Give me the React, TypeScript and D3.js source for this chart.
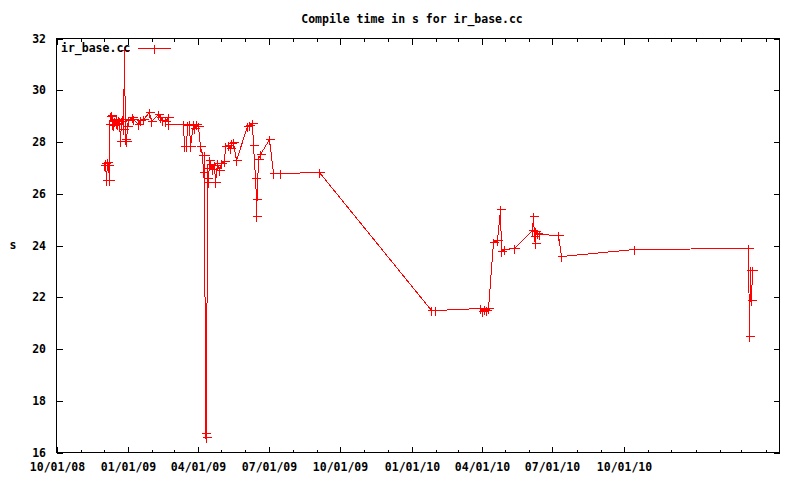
import React from "react";
import * as d3 from "d3";

const title = "Compile time in s for ir_base.cc";
const seriesName = "ir_base.cc";
const yLabel = "s";

const dates = [
  "2008-12-01", "2008-12-03", "2008-12-04", "2008-12-05", "2008-12-06", "2008-12-07",
  "2008-12-08", "2008-12-09", "2008-12-10", "2008-12-11", "2008-12-12", "2008-12-13",
  "2008-12-14", "2008-12-16", "2008-12-17", "2008-12-18", "2008-12-19", "2008-12-21",
  "2008-12-22", "2008-12-23", "2008-12-24", "2008-12-26", "2008-12-27", "2008-12-28",
  "2008-12-30", "2008-12-31", "2009-01-01", "2009-01-06", "2009-01-08", "2009-01-14",
  "2009-01-17", "2009-01-20", "2009-01-28", "2009-01-30", "2009-02-09", "2009-02-11",
  "2009-02-14", "2009-02-18", "2009-02-21", "2009-02-22", "2009-03-13", "2009-03-14",
  "2009-03-16", "2009-03-18", "2009-03-20", "2009-03-22", "2009-03-25", "2009-03-27",
  "2009-03-29", "2009-04-01", "2009-04-04", "2009-04-06", "2009-04-07", "2009-04-09",
  "2009-04-10", "2009-04-11", "2009-04-12", "2009-04-13", "2009-04-14", "2009-04-15",
  "2009-04-17", "2009-04-19", "2009-04-21", "2009-04-23", "2009-04-25", "2009-04-28",
  "2009-05-01", "2009-05-04", "2009-05-06", "2009-05-10", "2009-05-12", "2009-05-14",
  "2009-05-16", "2009-05-20", "2009-06-03", "2009-06-06", "2009-06-10", "2009-06-11",
  "2009-06-13", "2009-06-14", "2009-06-15", "2009-06-17", "2009-06-20", "2009-07-01",
  "2009-07-07", "2009-07-15", "2009-09-04", "2010-01-26", "2010-01-31", "2010-03-30",
  "2010-04-01", "2010-04-04", "2010-04-06", "2010-04-09", "2010-04-16", "2010-04-20",
  "2010-04-24", "2010-04-26", "2010-04-30", "2010-05-13", "2010-06-04", "2010-06-06",
  "2010-06-07", "2010-06-08", "2010-06-09", "2010-06-11", "2010-06-14", "2010-07-08",
  "2010-07-12", "2010-10-14", "2011-03-10", "2011-03-11", "2011-03-12", "2011-03-13",
  "2011-03-14",
];

const values = [
  27.12, 27.2, 26.55, 27.23, 27.1, 26.55,
  28.68, 29.0, 29.05, 28.7, 28.85, 28.65,
  28.8, 28.75, 28.9, 28.7, 28.85, 28.8,
  28.05, 28.8, 28.9, 28.5, 31.55, 28.1,
  28.05, 28.6, 28.85, 28.95, 28.9, 28.7,
  28.85, 28.9, 29.15, 28.8, 29.07, 28.95,
  28.85, 28.8, 28.95, 28.68, 28.68, 27.85,
  27.85, 28.65, 28.7, 27.85, 28.7, 28.55,
  28.7, 28.6, 27.85, 27.5, 26.85, 27.5,
  16.75, 16.6, 26.6, 27.0, 26.45, 27.3,
  27.15, 26.95, 27.1, 26.45, 27.2, 26.9,
  27.2, 27.25, 27.85, 27.9, 27.75, 27.95,
  28.0, 27.3, 28.6, 28.65, 28.75, 27.9,
  26.6, 25.8, 25.15, 27.35, 27.55, 28.1,
  26.8, 26.8, 26.85, 21.5, 21.5, 21.6,
  21.45, 21.55, 21.5, 21.6, 24.15, 24.2,
  25.4, 23.8, 23.85, 23.9, 24.6, 25.15,
  24.35, 24.1, 24.55, 24.5, 24.45, 24.4,
  23.6, 23.85, 23.9, 20.5, 23.05, 21.9,
  23.05,
];

const xDomain = ["2008-10-01", "2011-04-19"];
const majorTickLabels = [
  "10/01/08", "01/01/09", "04/01/09", "07/01/09", "10/01/09",
  "01/01/10", "04/01/10", "07/01/10", "10/01/10",
];
const yTicks = [16, 18, 20, 22, 24, 26, 28, 30, 32];

const FONT = "'DejaVu Sans Mono', monospace";

export default function App() {
  const W = 800;
  const H = 480;
  const left = 56.5;
  const right = 779.5;
  const top = 38.5;
  const bottom = 452.5;
  const parse = d3.timeParse("%Y-%m-%d");
  const parseTick = d3.timeParse("%m/%d/%y");

  const x = d3
    .scaleTime()
    .domain([parse(xDomain[0]) as Date, parse(xDomain[1]) as Date])
    .range([left, right]);
  const y = d3.scaleLinear().domain([16, 32]).range([bottom, top]);

  const pts = dates.map((d, i) => ({
    px: Math.round(x(parse(d) as Date)) + 0.5,
    py: Math.round(y(values[i])) + 0.5,
  }));

  const line = d3
    .line<{ px: number; py: number }>()
    .x((p) => p.px)
    .y((p) => p.py);

  const majorDates = majorTickLabels.map((l) => parseTick(l) as Date);
  const majorSet = new Set(majorDates.map((d) => +d));
  const minorDates = d3
    .timeMonth.range(x.domain()[0], x.domain()[1])
    .filter((d) => !majorSet.has(+d));

  const majorLen = 6;
  const minorLen = 3;
  const red = "#ff0000";

  return (
    <svg
      width={W}
      height={H}
      style={{ position: "absolute", left: 0, top: 0, background: "#fff" }}
      fontFamily={FONT}
      fontWeight="bold"
      fontSize={11.5}
    >
      <rect x={0} y={0} width={W} height={H} fill="#fff" />
      <text x={412} y={19} textAnchor="middle" dominantBaseline="central" fill="#000">
        {title}
      </text>
      <text x={13} y={245} textAnchor="middle" dominantBaseline="central" fill="#000">
        {yLabel}
      </text>

      {/* frame */}
      <rect
        x={left}
        y={top}
        width={right - left}
        height={bottom - top}
        fill="none"
        stroke="#000"
        strokeWidth={1}
        shapeRendering="crispEdges"
      />

      {/* y ticks */}
      {yTicks.map((t) => {
        const yy = Math.round(y(t)) + 0.5;
        return (
          <g key={"y" + t}>
            <line x1={left} x2={left + majorLen} y1={yy} y2={yy} stroke="#000" shapeRendering="crispEdges" />
            <line x1={right} x2={right - majorLen} y1={yy} y2={yy} stroke="#000" shapeRendering="crispEdges" />
            <text x={46} y={yy - 1} textAnchor="end" dominantBaseline="central" fill="#000">
              {t}
            </text>
          </g>
        );
      })}

      {/* x ticks */}
      {majorDates.map((d, i) => {
        const xx = Math.round(x(d)) + 0.5;
        return (
          <g key={"xm" + i}>
            <line x1={xx} x2={xx} y1={bottom} y2={bottom - majorLen} stroke="#000" shapeRendering="crispEdges" />
            <line x1={xx} x2={xx} y1={top} y2={top + majorLen} stroke="#000" shapeRendering="crispEdges" />
            <text x={xx} y={466.5} textAnchor="middle" dominantBaseline="central" fill="#000">
              {majorTickLabels[i]}
            </text>
          </g>
        );
      })}
      {minorDates.map((d, i) => {
        const xx = Math.round(x(d)) + 0.5;
        return (
          <g key={"xn" + i}>
            <line x1={xx} x2={xx} y1={bottom} y2={bottom - minorLen} stroke="#000" shapeRendering="crispEdges" />
            <line x1={xx} x2={xx} y1={top} y2={top + minorLen} stroke="#000" shapeRendering="crispEdges" />
          </g>
        );
      })}

      {/* series */}
      <path d={line(pts) || ""} fill="none" stroke={red} strokeWidth={1} shapeRendering="crispEdges" />
      {pts.map((p, i) => (
        <path
          key={"p" + i}
          d={`M${p.px - 4},${p.py}h9M${p.px},${p.py - 4}v9`}
          stroke={red}
          strokeWidth={1}
          fill="none"
          shapeRendering="crispEdges"
        />
      ))}

      {/* legend */}
      <text x={61} y={48} textAnchor="start" dominantBaseline="central" fill="#000">
        {seriesName}
      </text>
      <line x1={138} x2={171} y1={48.5} y2={48.5} stroke={red} shapeRendering="crispEdges" />
      <path d={`M150.5,48.5h9M154.5,44.5v9`} stroke={red} fill="none" shapeRendering="crispEdges" />
    </svg>
  );
}
